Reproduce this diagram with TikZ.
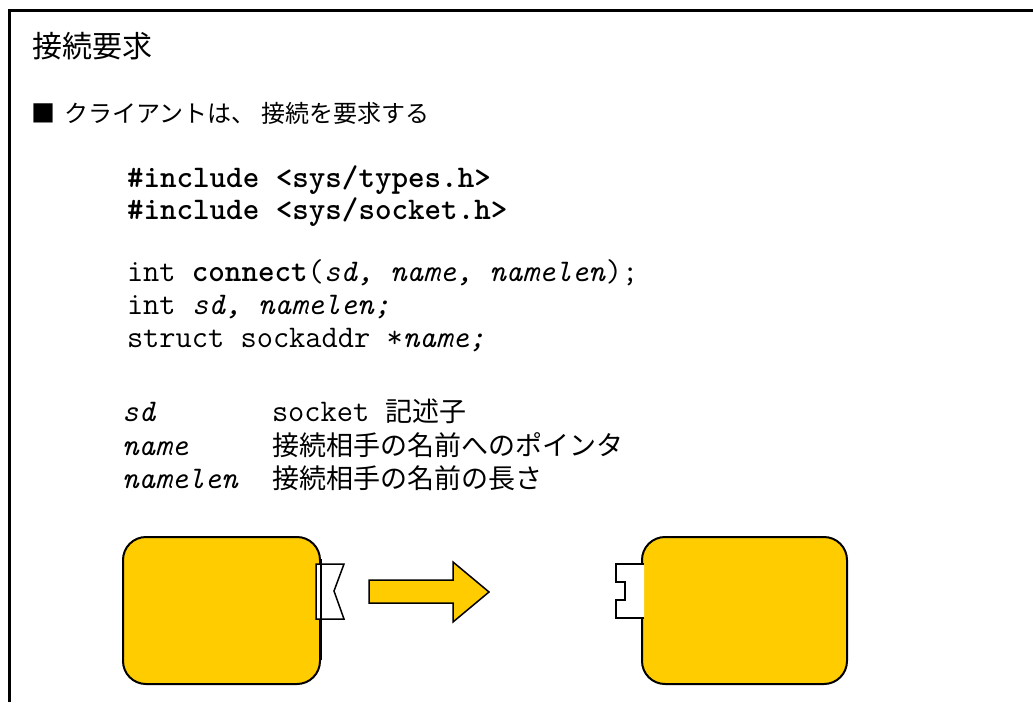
\documentclass[tikz,border=0pt]{standalone}
\usepackage{fontspec}
\newfontfamily\jp{Noto Sans CJK JP}
\definecolor{sockyellow}{HTML}{FFCC00}

\begin{document}
\begin{tikzpicture}[x=1pt,y=-1pt,
  txt/.style={anchor=base west, inner sep=0pt, outer sep=0pt},
  title/.style={txt, font=\jp\fontsize{30}{30}\selectfont},
  bullet/.style={txt, font=\jp\fontsize{24}{24}\selectfont},
  code/.style={txt, font=\fontsize{31.5}{34}\ttfamily},
  jpdesc/.style={txt, font=\jp\fontsize{27}{27}\selectfont},
  host/.style={draw=black, line width=2pt, fill=sockyellow, rounded corners=23pt,
    minimum height=147pt, inner sep=0pt},
  plug/.style={draw=black, line width=1.5pt, fill=white},
  blockarrow/.style={draw=black, line width=1.5pt, fill=sockyellow, line join=miter},
]
\useasboundingbox (0,0) rectangle (1033,702);

% frame
\draw[line width=3pt] (9,702) -- (9,10) -- (1040,10);

% heading and bullet
\node[title] (head) at (32,57) {接続要求};
\node[bullet] (point) at (31,122) {■\hspace{9pt}クライアントは、\hspace{6pt}接続を要求する};

% synopsis
\node[code] (inc1) at (127,187) {\bfseries \#include <sys/types.h>};
\node[code] (inc2) at (127,219) {\bfseries \#include <sys/socket.h>};
\node[code] (proto) at (127,281) {int \textbf{connect}(\textit{sd, name, namelen});};
\node[code] (decl1) at (127,314) {int \textit{sd, namelen;}};
\node[code] (decl2) at (127,347) {struct sockaddr *\textit{name;}};

% parameters
\node[code] (psd) at (122,421) {\textit{sd}};
\node[code] (pname) at (122,455) {\textit{name}};
\node[code] (plen) at (122,488) {\textit{namelen}};
\node[code] (dsd) at (272,421) {socket {\jp\fontsize{27}{27}\selectfont 記述子}};
\node[jpdesc] (dname) at (272,455) {接続相手の名前へのポインタ};
\node[jpdesc] (dlen) at (272,488) {接続相手の名前の長さ};

% client host with its socket
\node[host, minimum width=197pt] (client) at (221.5,610.5) {};
\draw[plug] (316,564) -- (344,564) -- (334,591) -- (344,619) -- (316,619) -- cycle;
\draw[line width=2pt] (client.north east) ++(0,23) -- ++(0,101);

% request arrow
\draw[blockarrow] (369,580) -- (453,580) -- (453,562) -- (489,592) -- (453,622)
  -- (453,603) -- (369,603) -- cycle;

% server host with its socket
\node[host, minimum width=205pt] (server) at (744.5,610.5) {};
\draw[plug] (644,564) -- (616,564) -- (616,582) -- (625,582) -- (625,600)
  -- (616,600) -- (616,618) -- (644,618);
\end{tikzpicture}
\end{document}
